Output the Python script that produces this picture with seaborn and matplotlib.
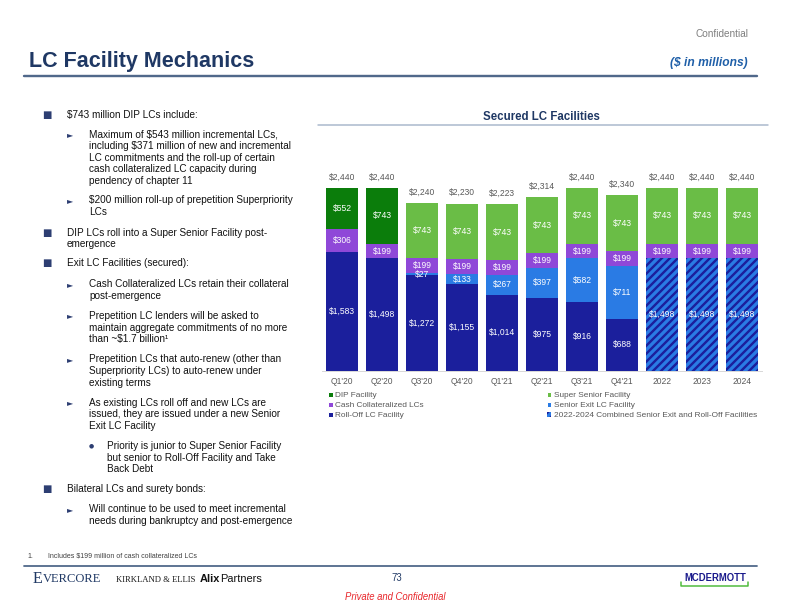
import matplotlib
matplotlib.use("Agg")
import matplotlib.pyplot as plt
from matplotlib.patches import Patch
from matplotlib.lines import Line2D
import seaborn as sns
import pandas as pd
import numpy as np

# ---------------- data ----------------
periods = ["Q1'20", "Q2'20", "Q3'20", "Q4'20", "Q1'21", "Q2'21", "Q3'21", "Q4'21", "2022", "2023", "2024"]
roll_off = [1583, 1498, 1272, 1155, 1014, 975, 916, 688, 0, 0, 0]
senior_exit = [0, 0, 27, 133, 267, 397, 582, 711, 0, 0, 0]
combined = [0, 0, 0, 0, 0, 0, 0, 0, 1498, 1498, 1498]
cash_coll = [306, 199, 199, 199, 199, 199, 199, 199, 199, 199, 199]
dip = [552, 743, 0, 0, 0, 0, 0, 0, 0, 0, 0]
super_senior = [0, 0, 743, 743, 743, 743, 743, 743, 743, 743, 743]
totals = [2440, 2440, 2240, 2230, 2223, 2314, 2440, 2340, 2440, 2440, 2440]

legend_labels = ["DIP Facility", "Cash Collateralized LCs", "Roll-Off LC Facility",
                 "Super Senior Facility", "Senior Exit LC Facility",
                 "2022-2024 Combined Senior Exit and Roll-Off Facilities"]

# ---------------- style ----------------
C_ROLL = "#1b1f9c"
C_SEN = "#2a7be4"
C_CASH = "#8f48d8"
C_DIP = "#0b7d0b"
C_SUP = "#6abd46"
GREY = "#595959"
NAVY = "#1f3864"
BULLET = "#2d3e72"

sns.set_theme(style="white")
plt.rcParams["font.family"] = ["Liberation Sans", "DejaVu Sans"]
plt.rcParams["hatch.color"] = C_ROLL
plt.rcParams["hatch.linewidth"] = 2.4

W, H = 792, 612
fig = plt.figure(figsize=(W / 72, H / 72), dpi=72)


def P(x, y):
    return (x / W, 1 - y / H)


# ---------------- chart ----------------
base_y = 370.5
top_y = 160
ax_left, ax_right = 322, 762
ax = fig.add_axes([ax_left / W, (H - base_y) / H, (ax_right - ax_left) / W, (base_y - top_y) / H])

stack = np.array([roll_off, senior_exit, combined, cash_coll, dip, super_senior], dtype=float)
cum = np.cumsum(stack, axis=0)
colors = [C_ROLL, C_SEN, C_SEN, C_CASH, C_DIP, C_SUP]

# draw from top layer down so lower layers cover upper cumulative bars
for k in range(5, -1, -1):
    mask = stack[k] > 0
    df = pd.DataFrame({"period": np.array(periods)[mask], "h": cum[k][mask]})
    kws = dict(linewidth=0)
    if k == 2:
        kws = dict(hatch="///", edgecolor=C_ROLL, linewidth=0)
    sns.barplot(data=df, x="period", y="h", order=periods, color=colors[k],
                saturation=1, width=0.8, ax=ax, **kws)

# segment labels
for k in range(6):
    for i in range(len(periods)):
        v = stack[k][i]
        if v <= 0:
            continue
        yc = cum[k][i] - v / 2
        ax.text(i, yc, f"${int(v):,}", ha="center", va="center", color="white", fontsize=8.5)

# totals
for i, t in enumerate(totals):
    ax.annotate(f"${t:,}", (i, cum[-1][i]), xytext=(0, 11), textcoords="offset points",
                ha="center", va="center", color=GREY, fontsize=8.5)

ymax = 2440 * (base_y - top_y) / (base_y - 188)
ax.set_ylim(0, ymax)
ax.set_xlim(-0.5, len(periods) - 0.5)
ax.set_xlabel("")
ax.set_ylabel("")
ax.set_yticks([])
for s in ["top", "right", "left"]:
    ax.spines[s].set_visible(False)
ax.spines["bottom"].set_color("#d9d9d9")
ax.spines["bottom"].set_linewidth(1)
ax.tick_params(axis="x", length=0, pad=6, labelsize=8.5, labelcolor=GREY)
ax.patch.set_alpha(0)

# legend
handles = [
    Patch(facecolor=C_DIP),
    Patch(facecolor=C_CASH),
    Patch(facecolor=C_ROLL),
    Patch(facecolor=C_SUP),
    Patch(facecolor=C_SEN),
    Patch(facecolor=C_SEN, edgecolor=C_ROLL, hatch="///", linewidth=0),
]
leg = fig.legend(handles=handles, labels=legend_labels, ncol=2, loc="upper left",
                 bbox_to_anchor=P(328, 392),
                 frameon=False, fontsize=8.2, handlelength=0.55, handleheight=0.55,
                 handletextpad=0.3, labelspacing=0.3, columnspacing=15.0,
                 borderpad=0, borderaxespad=0)
for t in leg.get_texts():
    t.set_color(GREY)

# chart title + line
fig.text(*P(541, 117), "Secured LC Facilities", ha="center", va="center",
         fontsize=11.5, fontweight="bold", color=NAVY)
fig.add_artist(Line2D([318 / W, 768 / W], [1 - 125 / H, 1 - 125 / H], color="#a9b8cc", lw=1.5))

# ---------------- header ----------------
fig.text(*P(749, 34), "Confidential", ha="right", va="center", fontsize=10, color="#7f7f7f")
fig.text(*P(29, 62), "LC Facility Mechanics", ha="left", va="center", fontsize=21.5,
         fontweight="bold", color=NAVY)
fig.text(*P(748, 63), "($ in millions)", ha="right", va="center", fontsize=12,
         fontweight="bold", fontstyle="italic", color="#1f5fa8")
fig.add_artist(Line2D([24 / W, 757 / W], [1 - 76 / H, 1 - 76 / H], color="#50688a", lw=2.4))

# ---------------- left bullets ----------------
FS = 10
TXT = "#111111"
L1, L2, L3 = 66.7, 89, 106.7
lines = [
    (1, 115, "$743 million DIP LCs include:"),
    (2, 134.3, "Maximum of $543 million incremental LCs,"),
    (0, 146, "including $371 million of new and incremental"),
    (0, 157.7, "LC commitments and the roll-up of certain"),
    (0, 169.4, "cash collateralized LC capacity during"),
    (0, 181.1, "pendency of chapter 11"),
    (2, 200.5, "$200 million roll-up of prepetition Superpriority"),
    (0, 212.2, "LCs"),
    (1, 232.7, "DIP LCs roll into a Super Senior Facility post-"),
    (-1, 244.4, "emergence"),
    (1, 263.3, "Exit LC Facilities (secured):"),
    (2, 284.3, "Cash Collateralized LCs retain their collateral"),
    (0, 296, "post-emergence"),
    (2, 316, "Prepetition LC lenders will be asked to"),
    (0, 327.7, "maintain aggregate commitments of no more"),
    (0, 339.4, "than ~$1.7 billion\u00b9"),
    (2, 359.3, "Prepetition LCs that auto-renew (other than"),
    (0, 371, "Superpriority LCs) to auto-renew under"),
    (0, 382.7, "existing terms"),
    (2, 402.7, "As existing LCs roll off and new LCs are"),
    (0, 414.4, "issued, they are issued under a new Senior"),
    (0, 426.1, "Exit LC Facility"),
    (3, 446, "Priority is junior to Super Senior Facility"),
    (-3, 457.7, "but senior to Roll-Off Facility and Take"),
    (-3, 469.4, "Back Debt"),
    (1, 489, "Bilateral LCs and surety bonds:"),
    (2, 509.5, "Will continue to be used to meet incremental"),
    (0, 521.2, "needs during bankruptcy and post-emergence"),
]
for lvl, y, s in lines:
    if lvl in (1, -1):
        x = L1
    elif lvl in (3, -3):
        x = L3
    else:
        x = L2
    if lvl == 1:
        fig.text(*P(46.7, y), "\u25a0", ha="center", va="center", fontsize=10,
                 color=BULLET, family=["DejaVu Sans"])
    elif lvl == 2:
        fig.text(*P(70.5, y), "\u25ba", ha="center", va="center", fontsize=8,
                 color=BULLET, family=["DejaVu Sans"])
    elif lvl == 3:
        fig.text(*P(91, y), "\u25cf", ha="center", va="center", fontsize=6,
                 color=BULLET, family=["DejaVu Sans"])
    fig.text(*P(x, y), s, ha="left", va="center", fontsize=FS, color=TXT)

# ---------------- footer ----------------
fig.text(*P(27, 556), "1.", ha="left", va="center", fontsize=7, color="#404040")
fig.text(*P(48, 556), "Includes $199 million of cash collateralized LCs", ha="left",
         va="center", fontsize=7, color="#404040")
fig.add_artist(Line2D([24 / W, 757 / W], [1 - 566 / H, 1 - 566 / H], color="#50688a", lw=1.8))

e_txt = fig.text(*P(33, 579), "E", ha="left", va="center", fontsize=16, color="#1f3864",
                 family=["Liberation Serif"])
ax.annotate("VERCORE", xy=(1, 0.14), xycoords=e_txt, ha="left", va="bottom", fontsize=12.5,
            color="#1f3864", family=["Liberation Serif"], annotation_clip=False)
fig.text(*P(116, 580), "KIRKLAND & ELLIS", ha="left", va="center", fontsize=8.6,
         color="#1a1a1a", family=["Liberation Serif"])
alix = fig.text(*P(200, 579), "Alix", ha="left", va="center", fontsize=11, fontweight="bold",
                color="#111111")
ax.annotate("Partners", xy=(1, 0.5), xycoords=alix, ha="left", va="center", fontsize=11,
            color="#111111", annotation_clip=False)
fig.text(*P(397, 578), "73", ha="center", va="center", fontsize=9.5, color="#1f3864")
fig.text(*P(395, 597), "Private and Confidential", ha="center", va="center", fontsize=9.5,
         fontstyle="italic", color="#e8262b")
fig.text(*P(746, 578), "MCDERMOTT", ha="right", va="center", fontsize=9.5, fontweight="bold",
         color="#1a1a8c")
gy = 1 - 586 / H
fig.add_artist(Line2D([681 / W, 681 / W, 748 / W, 748 / W],
                      [gy + 4 / H, gy, gy, gy + 4 / H], color="#4dbb3a", lw=1.5))

fig.savefig("out.png", dpi=72, facecolor="white")
